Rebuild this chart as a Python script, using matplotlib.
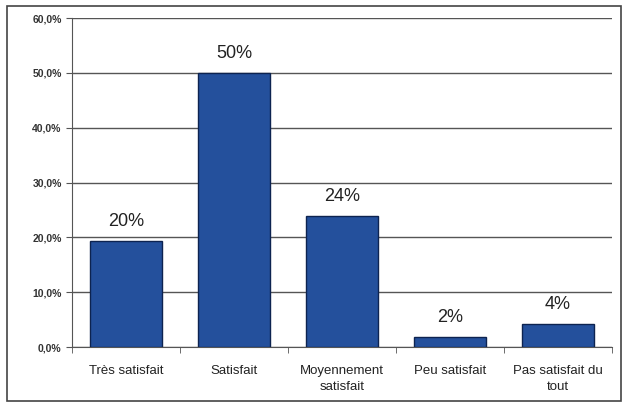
import numpy as np
import matplotlib.pyplot as plt
from matplotlib.patches import Rectangle
from matplotlib.ticker import FuncFormatter

categories = ['Très satisfait', 'Satisfait', 'Moyennement\nsatisfait', 'Peu satisfait', 'Pas satisfait du\ntout']
values = [19.4, 50.0, 23.9, 1.9, 4.2]
labels = ['20%', '50%', '24%', '2%', '4%']

plt.rcParams['font.family'] = ['Liberation Sans', 'DejaVu Sans']

fig = plt.figure(figsize=(6.27, 4.04), dpi=100)
fig.patches.append(Rectangle((0.011, 0.008), 0.979, 0.978, transform=fig.transFigure,
                             fill=False, edgecolor='#444444', linewidth=1.2))
ax = fig.add_axes([0.115, 0.141, 0.861, 0.814])

x = np.arange(len(categories))
ax.bar(x, values, width=0.66, color='#24509c', edgecolor='#0d2350', linewidth=1, zorder=3)
for xi, v, lab in zip(x, values, labels):
    ax.text(xi, v + 2.0, lab, ha='center', va='bottom', fontsize=13, color='#222222')

ax.set_xlim(-0.5, 4.5)
ax.set_ylim(0, 60)
ax.set_yticks(np.arange(0, 61, 10))
ax.yaxis.set_major_formatter(FuncFormatter(lambda v, p: f'{v:.1f}%'.replace('.', ',')))
ax.grid(axis='y', color='#555555', linewidth=1, zorder=0)
ax.set_xticks(x)
ax.set_xticklabels(categories, fontsize=9.5, color='#222222', linespacing=1.45)
ax.set_xticks(np.arange(-0.5, 5, 1), minor=True)
ax.tick_params(axis='x', which='major', length=0, pad=13)
ax.tick_params(axis='x', which='minor', length=4, color='#555555')
ax.tick_params(axis='y', labelsize=7.5, length=4, color='#555555', labelcolor='#333333')
for lab in ax.get_yticklabels():
    lab.set_fontweight('bold')
ax.spines['top'].set_visible(False)
ax.spines['right'].set_visible(False)
ax.spines['left'].set_color('#555555')
ax.spines['bottom'].set_color('#555555')

fig.savefig('out.png', dpi=100)
